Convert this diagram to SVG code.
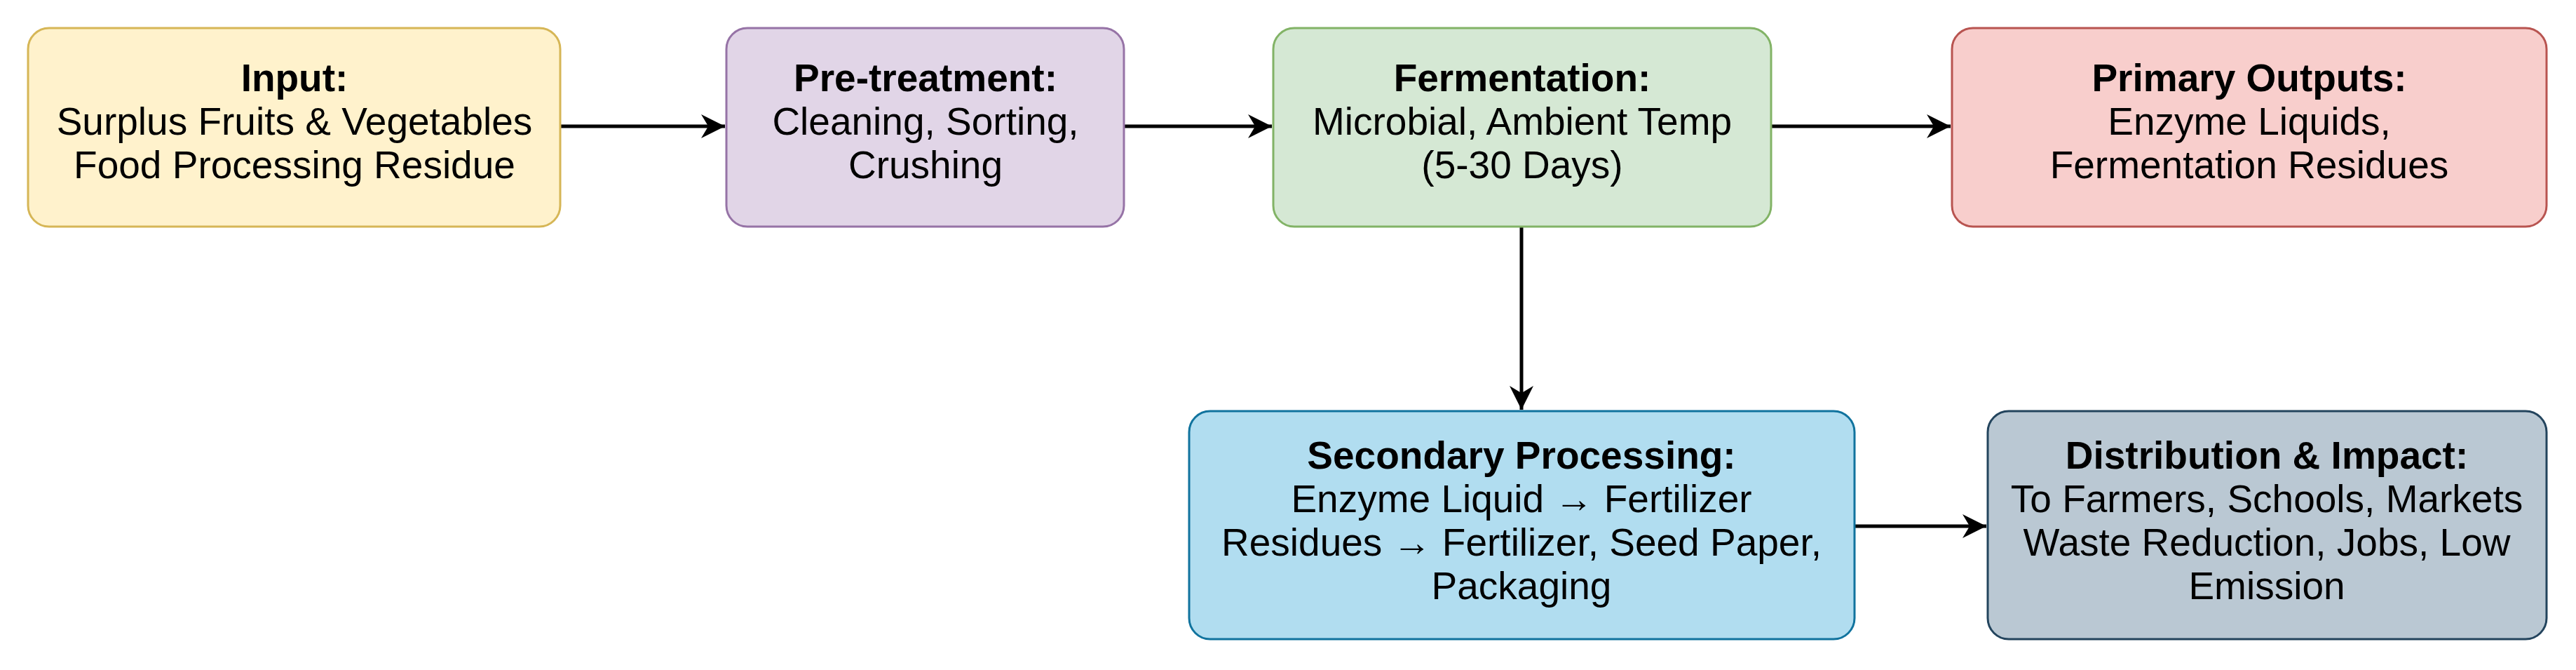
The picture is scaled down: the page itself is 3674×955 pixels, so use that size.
<svg xmlns="http://www.w3.org/2000/svg" width="3674" height="955" viewBox="0 0 3674 955">
<style>
text{font-family:"Liberation Sans",Arial,sans-serif;font-size:55px;fill:#000;text-anchor:middle}
.b{font-weight:bold}
.n rect{stroke-width:3}
.c{stroke:#000;stroke-width:5;fill:none;marker-end:url(#a)}
</style>
<defs><marker id="a" viewBox="0 0 10 10" refX="10" refY="5" markerWidth="34" markerHeight="34" markerUnits="userSpaceOnUse" orient="auto"><path d="M0,0 L10,5 L0,10 L3,5 Z" fill="#000"/></marker></defs>
<rect width="3674" height="955" fill="#fff"/>
<g id="connectors">
<line class="c" x1="799" y1="180" x2="1034" y2="180"/>
<line class="c" x1="1603" y1="180" x2="1814" y2="180"/>
<line class="c" x1="2526" y1="180" x2="2782" y2="180"/>
<line class="c" x1="2170" y1="323" x2="2170" y2="584"/>
<line class="c" x1="2645" y1="750" x2="2833" y2="750"/>
</g>
<g id="input" class="n"><rect x="40" y="40" width="759" height="283" rx="30" fill="#fff2cc" stroke="#d6b656"/>
<text class="b" x="420" y="130">Input:</text><text x="420" y="192">Surplus Fruits &amp; Vegetables</text><text x="420" y="254">Food Processing Residue</text></g>
<g id="pretreatment" class="n"><rect x="1036" y="40" width="567" height="283" rx="30" fill="#e1d5e7" stroke="#9673a6"/>
<text class="b" x="1320" y="130">Pre-treatment:</text><text x="1320" y="192">Cleaning, Sorting,</text><text x="1320" y="254">Crushing</text></g>
<g id="fermentation" class="n"><rect x="1816" y="40" width="710" height="283" rx="30" fill="#d5e8d4" stroke="#82b366"/>
<text class="b" x="2171" y="130">Fermentation:</text><text x="2171" y="192">Microbial, Ambient Temp</text><text x="2171" y="254">(5-30 Days)</text></g>
<g id="primary" class="n"><rect x="2784" y="40" width="848" height="283" rx="30" fill="#f8cecc" stroke="#b85450"/>
<text class="b" x="3208" y="130">Primary Outputs:</text><text x="3208" y="192">Enzyme Liquids,</text><text x="3208" y="254">Fermentation Residues</text></g>
<g id="secondary" class="n"><rect x="1696" y="586" width="949" height="325" rx="30" fill="#b1ddf0" stroke="#10739e"/>
<text class="b" x="2170" y="668">Secondary Processing:</text><text x="2170" y="730">Enzyme Liquid → Fertilizer</text><text x="2170" y="792">Residues → Fertilizer, Seed Paper,</text><text x="2170" y="854">Packaging</text></g>
<g id="distribution" class="n"><rect x="2835" y="586" width="797" height="325" rx="30" fill="#bac8d3" stroke="#23445d"/>
<text class="b" x="3233" y="668">Distribution &amp; Impact:</text><text x="3233" y="730">To Farmers, Schools, Markets</text><text x="3233" y="792">Waste Reduction, Jobs, Low</text><text x="3233" y="854">Emission</text></g>
</svg>
